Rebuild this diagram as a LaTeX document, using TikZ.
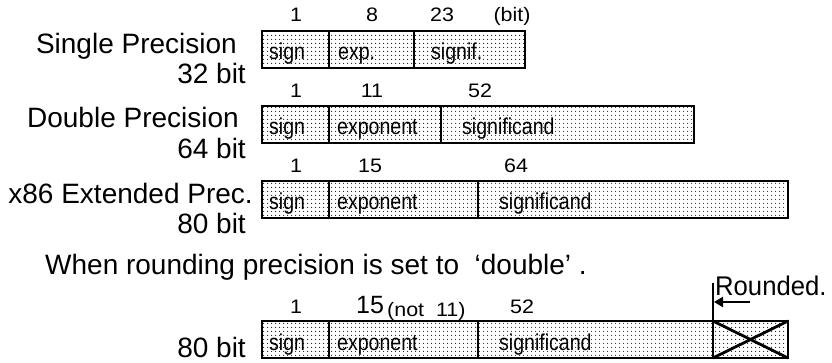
\documentclass[tikz,border=0pt]{standalone}
\usepackage{fontspec}
\setmainfont{Liberation Sans}
\newfontfamily\narrowsans[FakeStretch=0.85]{Liberation Sans}
\newfontfamily\labelsans[FakeStretch=0.95]{Liberation Sans}
\newfontfamily\widesans[FakeStretch=1.1]{Liberation Sans}
\usetikzlibrary{patterns.meta,arrows.meta}

\tikzset{
  field/.style={draw=black, line width=1.3pt,
    pattern={Dots[distance=4pt,radius=0.65pt]}, pattern color=black!90,
    anchor=north west, minimum height=37pt, inner sep=0pt, outer sep=0pt},
  ftext/.style={anchor=base west, inner sep=0pt,
    font=\narrowsans\fontsize{23}{25}\selectfont},
  bits/.style={anchor=base, inner sep=0pt, font=\widesans\fontsize{19.5}{21}\selectfont},
  title/.style={anchor=base east, inner sep=0pt, font=\fontsize{28}{30}\selectfont},
}

\begin{document}
\begin{tikzpicture}[x=1pt,y=-1pt]
\useasboundingbox (0,0) rectangle (832,363);

% ---- Single precision
\node[title] (l1a) at (237,54) {Single Precision};
\node[title] (l1b) at (246,84) {32 bit};
\node[bits] (n1a) at (296,22) {1};
\node[bits] (n1b) at (372,22) {8};
\node[bits] (n1c) at (442,22) {23};
\node[bits] (n1d) at (512,22) {(bit)};
\node[field, minimum width=67pt] (s1) at (262,31) {};
\node[field, minimum width=85pt] (e1) at (329,31) {};
\node[field, minimum width=111pt] (m1) at (414,31) {};
\node[ftext] (t1a) at (269,60) {sign};
\node[ftext] (t1b) at (338,60) {exp.};
\node[ftext] (t1c) at (431,60) {signif.};

% ---- Double precision
\node[title] (l2a) at (239,128) {Double Precision};
\node[title] (l2b) at (246,159) {64 bit};
\node[bits] (n2a) at (296,98) {1};
\node[bits] (n2b) at (372,98) {11};
\node[bits] (n2c) at (480,98) {52};
\node[field, minimum width=67pt] (s2) at (262,106) {};
\node[field, minimum width=112pt] (e2) at (329,106) {};
\node[field, minimum width=253pt] (m2) at (441,106) {};
\node[ftext] (t2a) at (269,135) {sign};
\node[ftext] (t2b) at (337,135) {exponent};
\node[ftext] (t2c) at (462,135) {significand};

% ---- x86 extended precision
\node[title] (l3a) at (253,204) {x86 Extended Prec.};
\node[title] (l3b) at (246,234) {80 bit};
\node[bits] (n3a) at (296,173) {1};
\node[bits] (n3b) at (370,173) {15};
\node[bits] (n3c) at (516,173) {64};
\node[field, minimum width=67pt] (s3) at (262,181) {};
\node[field, minimum width=149pt] (e3) at (329,181) {};
\node[field, minimum width=310pt] (m3) at (478,181) {};
\node[ftext] (t3a) at (269,210) {sign};
\node[ftext] (t3b) at (337,210) {exponent};
\node[ftext] (t3c) at (499,210) {significand};

% ---- Rounding to double inside the 80 bit format
\node[anchor=base west, inner sep=0pt, font=\fontsize{28}{30}\selectfont]
  (cap) at (45,275) {When rounding precision is set to\ \ ‘double’\ .};
\node[anchor=base west, inner sep=0pt, font=\labelsans\fontsize{27}{29}\selectfont]
  (rnd) at (715,295) {Rounded.};
\node[title] (l4) at (246,357) {80 bit};
\node[bits] (n4a) at (296,313) {1};
\node[bits, font=\fontsize{25}{28}\selectfont] (n4b) at (370,313) {15};
\node[bits, anchor=base west] (n4c) at (387,316) {(not\ \ 11)};
\node[bits] (n4d) at (522,313) {52};
\node[field, minimum width=67pt] (s4) at (262,321) {};
\node[field, minimum width=149pt] (e4) at (329,321) {};
\node[field, minimum width=235pt] (m4) at (478,321) {};
\node[field, minimum width=75pt] (x4) at (713,321) {};
\node[ftext] (t4a) at (269,350) {sign};
\node[ftext] (t4b) at (337,350) {exponent};
\node[ftext] (t4c) at (499,350) {significand};

% cut-off bits are crossed out
\draw[line width=2.8pt] (x4.north west) -- (x4.south east);
\draw[line width=2.8pt] (x4.south west) -- (x4.north east);

% rounding boundary and its arrow
\coordinate (top) at (713,283);
\coordinate (tail) at (750,302);
\coordinate (tip) at (714,302);
\draw[line width=1.6pt] (x4.north west) -- (top);
\draw[line width=2.8pt, -{Triangle[length=9pt,width=10pt]}] (tail) -- (tip);
\end{tikzpicture}
\end{document}
